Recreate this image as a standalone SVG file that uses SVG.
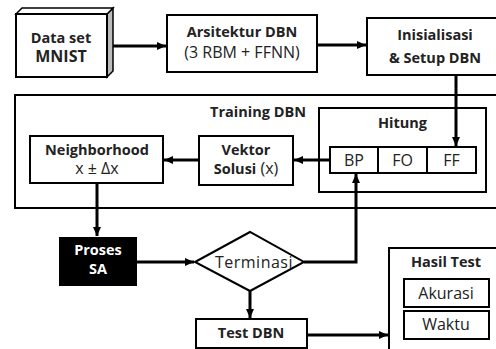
<svg xmlns="http://www.w3.org/2000/svg" width="496" height="349" viewBox="0 0 496 349">
<defs>
<marker id="ah" markerUnits="userSpaceOnUse" markerWidth="10" markerHeight="10" refX="9" refY="5" orient="auto">
<path d="M0,1 L9,5 L0,9 z" fill="#000"/>
</marker>
<style>
.b{fill:#fff;stroke:#000;stroke-width:2}
.t{font-family:"Open Sans",sans-serif;font-size:16px;fill:#222;text-anchor:middle}
.bd{font-weight:bold;font-size:14.5px}
.c{fill:none;stroke:#000;stroke-width:3}
</style>
</defs>
<rect width="496" height="349" fill="#fff"/>
<g id="training">
<rect class="b" x="15" y="95" width="490" height="113"/>
<text class="t bd" x="258" y="117">Training DBN</text>
</g>
<g id="dataset">
<path d="M107,14 L113,8 L113,71 L107,77 z" fill="#bbb" stroke="#000" stroke-width="1.5"/>
<path d="M16,14 L22,8 L113,8 L107,14 z" fill="#fff" stroke="#000" stroke-width="1.5"/>
<rect class="b" x="16" y="14" width="91" height="63"/>
<text class="t bd" x="61" y="43">Data set</text>
<text class="t bd" x="61" y="62" style="font-size:16px">MNIST</text>
</g>
<g id="arsitektur">
<rect class="b" x="167" y="15" width="150" height="57"/>
<text class="t bd" x="242" y="37">Arsitektur DBN</text>
<text class="t" x="242" y="58">(3 RBM + FFNN)</text>
</g>
<g id="inisialisasi">
<rect class="b" x="367" y="18" width="136" height="57"/>
<text class="t bd" x="435" y="40">Inisialisasi</text>
<text class="t bd" x="435" y="63">&amp; Setup DBN</text>
</g>
<g id="neighborhood">
<rect class="b" x="30" y="136" width="133" height="47"/>
<text class="t bd" x="97" y="155">Neighborhood</text>
<text class="t" x="97" y="174">x ± Δx</text>
</g>
<g id="vektor">
<rect class="b" x="199" y="136" width="94" height="49"/>
<text class="t bd" x="246" y="155">Vektor</text>
<text class="t" x="246" y="174"><tspan class="bd">Solusi</tspan> (x)</text>
</g>
<g id="hitung">
<rect class="b" x="319" y="108" width="167" height="84"/>
<text class="t bd" x="402.5" y="128">Hitung</text>
</g>
<g id="bp">
<rect class="b" x="330" y="147" width="48" height="26"/>
<text class="t" x="354" y="166">BP</text>
</g>
<g id="fo">
<rect class="b" x="378" y="147" width="49" height="26"/>
<text class="t" x="402.5" y="166">FO</text>
</g>
<g id="ff">
<rect class="b" x="427" y="147" width="49" height="26"/>
<text class="t" x="451.5" y="166">FF</text>
</g>
<g id="proses">
<rect x="59" y="237" width="78" height="49" fill="#000"/>
<text class="t bd" x="98" y="255" style="fill:#fff">Proses</text>
<text class="t bd" x="98" y="274" style="fill:#fff">SA</text>
</g>
<g id="terminasi">
<path class="b" d="M195,262 L250,232 L304,262 L250,291 z"/>
<text class="t" x="254" y="268" style="letter-spacing:0.5px">Terminasi</text>
</g>
<g id="testdbn">
<rect class="b" x="196" y="319" width="111" height="29"/>
<text class="t bd" x="251" y="338">Test DBN</text>
</g>
<g id="hasil">
<rect class="b" x="389" y="248" width="120" height="110"/>
<text class="t bd" x="446" y="267">Hasil Test</text>
</g>
<g id="akurasi">
<rect class="b" x="404" y="279" width="85" height="28"/>
<text class="t" x="446" y="299">Akurasi</text>
</g>
<g id="waktu">
<rect class="b" x="404" y="311" width="85" height="28"/>
<text class="t" x="446" y="330">Waktu</text>
</g>
<g id="connectors">
<path class="c" d="M113,46 L166,46" marker-end="url(#ah)"/>
<path class="c" d="M317,45 L366,45" marker-end="url(#ah)"/>
<path class="c" d="M456,75 L456,146" marker-end="url(#ah)"/>
<path class="c" d="M199,160 L164,160" marker-end="url(#ah)"/>
<path class="c" d="M330,160 L294,160" marker-end="url(#ah)"/>
<path class="c" d="M304,262 L356,262 L356,174" marker-end="url(#ah)"/>
<path class="c" d="M97,183 L97,236" marker-end="url(#ah)"/>
<path class="c" d="M137,262 L194,262" marker-end="url(#ah)"/>
<path class="c" d="M250,291 L250,318" marker-end="url(#ah)"/>
<path class="c" d="M307,335 L388,335" marker-end="url(#ah)"/>
</g>
</svg>
